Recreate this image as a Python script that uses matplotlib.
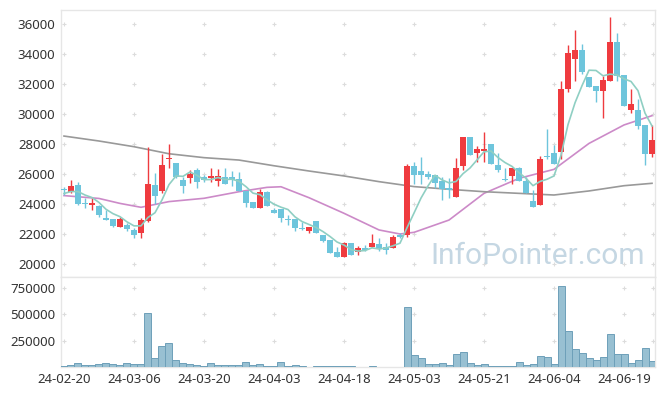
import numpy as np
import pandas as pd
import matplotlib
matplotlib.use("Agg")
import matplotlib.pyplot as plt

plt.rcParams['font.family'] = ['Noto Sans', 'DejaVu Sans']

# daily prices, 85 trading days (24-02-20 .. 24-06-25)
opens = [25000, 24822, 25267, 24067, 23933, 23889, 23044, 22978, 22489, 22600,
         22267, 22089, 22900, 25267, 24889, 27000, 26756, 25600, 25756, 26267,
         25778, 25756, 25556, 25778, 25778, 25644, 24889, 24111, 23756, 24822,
         23600, 23667, 22978, 22978, 22378, 22222, 22867, 21933, 21600, 20822,
         20489, 21422, 20822, 21044, 21111, 21333, 21156, 21089, 21950, 21933,
         26533, 26200, 26000, 25933, 25556, 25044, 24489, 26533, 28444, 27378,
         27556, 28000, 26600, 25650, 25867, 26378, 25556, 24222, 23933, 27200,
         27378, 27489, 31644, 33644, 34267, 32489, 31867, 31556, 32222, 34822,
         32600, 30267, 30267, 29267, 27333]
highs = [25156, 25600, 25444, 24378, 24422, 23933, 23600, 22978, 23156, 22711,
         22378, 23044, 27800, 26089, 27311, 28000, 26756, 25822, 26267, 26422,
         25933, 26422, 26311, 26378, 26222, 26156, 24889, 24111, 25000, 24867,
         23711, 23667, 23267, 22978, 22822, 22489, 22867, 21933, 21600, 21156,
         21489, 21422, 21200, 21267, 22000, 21756, 21378, 21933, 22050, 26644,
         26822, 27156, 26200, 25933, 25822, 25711, 27044, 28444, 28444, 27867,
         28822, 28000, 27378, 26378, 26378, 26500, 25822, 24933, 27200, 28978,
         27933, 32222, 34600, 35600, 34667, 32489, 31867, 32533, 36444, 35422,
         32600, 31644, 30978, 29267, 29267]
lows = [24600, 24711, 23933, 23711, 23600, 23156, 22933, 22489, 22489, 22200,
        21711, 21711, 22800, 24000, 24756, 26422, 25756, 24756, 25378, 25089,
        25444, 25489, 25200, 25333, 25200, 24889, 23822, 23711, 23711, 23889,
        23422, 22822, 22600, 22200, 22267, 22044, 22044, 21489, 20756, 20489,
        20489, 20600, 20600, 20889, 21111, 20889, 20667, 21089, 21750, 21778,
        25333, 25333, 25700, 25044, 24267, 24378, 24489, 26267, 27267, 26822,
        26822, 26644, 26156, 25556, 25333, 25556, 24756, 23822, 23933, 26978,
        26667, 26978, 31489, 32222, 32667, 31822, 30822, 29711, 32222, 32222,
        30533, 30089, 28978, 26600, 27156]
closes = [24911, 25200, 24000, 23978, 24067, 23267, 22933, 22533, 22978, 22333,
          21933, 22933, 25333, 24556, 26600, 27044, 25822, 25200, 26000, 25489,
          25600, 25867, 25867, 25333, 25600, 24889, 24089, 23711, 24822, 23889,
          23422, 23089, 22933, 22378, 22333, 22444, 22089, 21556, 20756, 20489,
          21422, 20600, 21044, 20933, 21378, 21044, 20933, 21778, 21800, 26533,
          25933, 25933, 25822, 25378, 24978, 24933, 26378, 28444, 27267, 27667,
          27644, 26644, 26267, 25600, 26378, 25556, 24756, 23822, 27000, 27111,
          26667, 31644, 34044, 34267, 32822, 31822, 31556, 32267, 34822, 32556,
          30533, 30667, 29200, 27333, 28267]
volumes = [5000, 16000, 41000, 16000, 16000, 32000, 41000, 32000, 16000, 41000,
           32000, 32000, 511000, 89000, 200000, 231000, 70000, 41000, 32000, 22000,
           13000, 41000, 22000, 22000, 22000, 22000, 51000, 22000, 32000, 13000,
           6000, 51000, 13000, 22000, 6000, 0, 13000, 13000, 13000, 13000,
           6000, 13000, 4000, 4000, 13000, 4000, 4000, 4000, 0, 569000,
           117000, 89000, 32000, 32000, 41000, 22000, 127000, 146000, 41000, 22000,
           32000, 13000, 13000, 13000, 13000, 51000, 22000, 32000, 108000, 98000,
           32000, 769000, 343000, 174000, 136000, 89000, 70000, 98000, 314000, 127000,
           127000, 41000, 70000, 184000, 60000]
# closes before the window, for the 5-day average
prev_close = [24550, 24000, 25130, 24910]

tick_labels = ['24-02-20', '24-03-06', '24-03-20', '24-04-03', '24-04-18',
               '24-05-03', '24-05-21', '24-06-04', '24-06-19']

# 20-day and 120-day averages
ma20_idx = [0, 5, 8, 11, 15, 20, 25, 29, 31, 35, 40, 45, 48, 50, 55, 60, 65, 70, 75, 80, 84]
ma20 = [24560, 24370, 24040, 23780, 24160, 24380, 24820, 25110, 25150, 24420, 23380,
        22270, 22000, 22110, 22930, 24710, 25710, 26310, 28040, 29270, 29890]
ma120_idx = [0, 5, 10, 15, 20, 25, 30, 35, 40, 45, 50, 55, 60, 65, 70, 75, 80, 84]
ma120 = [28530, 28200, 27820, 27350, 27090, 26930, 26550, 26200, 25870, 25490,
         25160, 24980, 24820, 24710, 24600, 24870, 25220, 25380]

UP = '#ef3b3f'
DOWN = '#6ec5dc'
FRAME = '#e6e6e6'

n = len(closes)
x = np.arange(n)
o = np.array(opens)
c = np.array(closes)
h = np.array(highs)
l = np.array(lows)
up = c >= o

ma5 = pd.Series(prev_close + closes).rolling(5).mean().to_numpy()[len(prev_close):]

fig = plt.figure(figsize=(6.65, 3.96), dpi=100)
ax = fig.add_axes([0.0917, 0.3005, 0.8933, 0.6742])
axv = fig.add_axes([0.0917, 0.0732, 0.8933, 0.2273], sharex=ax)

# candles
cols = np.where(up, UP, DOWN)
ax.vlines(x, l, h, colors=cols, linewidth=1.0, zorder=3)
body_lo = np.minimum(o, c)
body_h = np.maximum(np.abs(c - o), 60)
ax.bar(x, body_h, bottom=body_lo, width=0.72, color=cols, linewidth=0, zorder=4)

ax.plot(x, ma5, color='#8fcfc3', lw=1.2, zorder=5)
ax.plot(ma20_idx, ma20, color='#cc8ac8', lw=1.2, zorder=2)
ax.plot(ma120_idx, ma120, color='#999999', lw=1.2, zorder=2)

ax.text(0.622, 0.05, 'InfoPointer.com', transform=ax.transAxes, family='Roboto',
        fontsize=21.5, color='#c5d7e3', ha='left', va='baseline', zorder=1)

# volume
axv.bar(x, volumes, width=1.0, color='#98c0d2', edgecolor='#6ea0b9', linewidth=0.7, zorder=3)

xlim = (-0.43, 84.43)
ax.set_xlim(*xlim)
ax.set_ylim(19133, 36933)
axv.set_ylim(0, 850000)

yt = np.arange(20000, 36001, 2000)
vt = [250000, 500000, 750000]
xt = np.arange(0, 81, 10)
ax.set_yticks(yt)
ax.set_yticklabels([str(v) for v in yt])
axv.set_yticks(vt)
axv.set_yticklabels([str(v) for v in vt])
axv.set_xticks(xt)
axv.set_xticklabels(tick_labels)
ax.tick_params(axis='x', labelbottom=False, length=0)

# "+" grid marks
gx = list(xt) + [84.1]
for a, ys in ((ax, yt), (axv, vt)):
    GX, GY = np.meshgrid(gx, ys)
    a.plot(GX.ravel(), GY.ravel(), '+', color='#dcdcdc', ms=3.5, mew=0.8, zorder=0)
    for s in a.spines.values():
        s.set_color(FRAME)
        s.set_linewidth(1.0)
    a.tick_params(length=0, labelsize=9.5, colors='#333333', pad=4)

fig.savefig('out.png', dpi=100)
